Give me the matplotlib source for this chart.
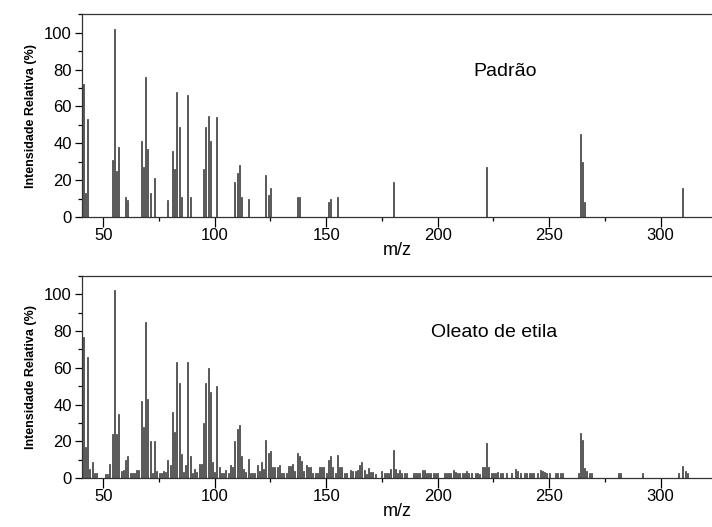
import matplotlib
matplotlib.use('Agg')
import matplotlib.pyplot as plt
from matplotlib.ticker import MultipleLocator

plt.rcParams['font.family'] = ['Liberation Sans', 'DejaVu Sans']

# Padrao (reference spectrum)
mz_padrao  = [41, 42, 43, 54, 55, 56, 57, 60, 61, 67, 68, 69, 70, 71, 73, 79, 81, 82, 83, 84,
              85, 88, 89, 95, 96, 97, 98, 101, 109, 110, 111, 112, 115, 123, 124, 125,
              137, 138, 151, 152, 155, 180, 222, 264, 265, 266, 310]
int_padrao = [72, 13, 53, 31, 102, 25, 38, 11, 9, 41, 27, 76, 37, 13, 21, 9, 36, 26, 68, 49,
              11, 66, 11, 26, 49, 55, 41, 54, 19, 24, 28, 11, 10, 23, 12, 16,
              11, 11, 8, 10, 11, 19, 27, 45, 30, 8, 16]

# Oleato de etila (sample spectrum)
mz_oleato = [41, 42, 43, 44, 45, 46, 47, 51, 52, 53, 54, 55, 56, 57, 58, 59, 60, 61, 62, 63,
             64, 65, 66, 67, 68, 69, 70, 71, 72, 73, 74, 75, 76, 77, 78, 79, 80, 81, 82, 83,
             84, 85, 86, 87, 88, 89, 90, 91, 92, 93, 94, 95, 96, 97, 98, 99, 100, 101, 102, 103,
             104, 105, 106, 107, 108, 109, 110, 111, 112, 113, 114, 115, 116, 117, 118, 119, 120,
             121, 122, 123, 124, 125, 126, 127, 128, 129, 130, 131, 132, 133, 134, 135, 136, 137,
             138, 139, 140, 141, 142, 143, 144, 145, 146, 147, 148, 149, 150, 151, 152, 153, 154,
             155, 156, 157, 158, 159, 161, 162, 163, 164, 165, 166, 167, 168, 169, 170, 171, 172,
             175, 176, 177, 178, 179, 180, 181, 182, 183, 184, 185, 186, 189, 190, 191, 192, 193,
             194, 195, 196, 197, 198, 199, 200, 203, 204, 205, 206, 207, 208, 209, 210, 211, 212,
             213, 214, 215, 217, 218, 219, 220, 221, 222, 223, 224, 225, 226, 227, 228, 229, 231,
             233, 235, 236, 237, 239, 240, 241, 242, 243, 245, 246, 247, 248, 249, 250, 253, 254,
             255, 256, 263, 264, 265, 266, 267, 268, 269, 281, 282, 292, 308, 310, 311, 312]
int_oleato = [77, 17, 66, 5, 9, 3, 3, 2.5, 2.5, 8, 24, 102, 24, 35, 4, 4.5, 10, 12, 3, 3,
              3, 4.5, 4.5, 42, 28, 85, 43, 20, 3, 20, 4, 3, 3, 4, 3.5, 10, 7, 36, 25, 63,
              52, 13, 3.5, 7, 63, 12, 3, 5, 3.5, 7.5, 8, 30, 52, 60, 47, 9, 3.5, 50, 6, 3,
              3, 4.5, 3, 7, 6, 20, 27, 29, 12, 5, 3.5, 10.5, 3, 3, 3, 7, 4,
              9, 5, 21, 14, 15, 6, 6, 6, 7, 3, 3, 2.7, 6.7, 6.7, 8, 4, 14,
              12, 9.5, 4, 7, 6.3, 6.3, 2.7, 2.7, 2.7, 6, 6, 6.3, 3, 10, 12, 6.3, 3,
              12.7, 6.3, 6, 3, 3, 4.5, 4, 4, 4.5, 7, 9, 4.5, 2.3, 5.4, 3.6, 3.4, 2.3,
              3.8, 2.7, 3, 3, 5, 15.4, 5, 3, 4.5, 3, 3, 3, 3, 3, 3, 3, 4.5,
              4.5, 3, 3, 3, 3, 3, 2.7, 2.7, 3, 2.7, 2.7, 4.5, 3.6, 3, 2.7, 2.7, 2.7,
              4, 3, 2.7, 2.7, 2.7, 2.3, 6, 6.3, 19.3, 6, 3, 3, 3, 3.4, 3, 2.7, 2.7,
              2.7, 5, 4, 2.7, 2.7, 2.7, 2.7, 2.7, 2.7, 2.7, 4.5, 4, 3.4, 2.7, 2.7, 2.7, 2.7,
              2.7, 2.7, 2.7, 24.4, 20.8, 5.6, 4, 2.7, 2.7, 2.7, 2.7, 2.7, 2.7, 6.7, 3.8, 2.7]

fig = plt.figure(figsize=(7.12, 5.27), dpi=100)
ax_top = fig.add_axes([0.1147, 0.5882, 0.8853, 0.3847])
ax_bot = fig.add_axes([0.1147, 0.0924, 0.8853, 0.3844])

def style_axis(ax, mz, inten, label, lx, ly):
    ax.bar(mz, inten, width=0.45, color='#9a9a9a', edgecolor='#1a1a1a', linewidth=0.45)
    ax.set_xlim(40.3, 323.1)
    ax.set_ylim(0, 110)
    ax.xaxis.set_major_locator(MultipleLocator(50))
    ax.xaxis.set_minor_locator(MultipleLocator(25))
    ax.yaxis.set_major_locator(MultipleLocator(20))
    ax.yaxis.set_minor_locator(MultipleLocator(10))
    ax.tick_params(axis='x', which='major', direction='out', length=7, width=0.9,
                   labelsize=12, pad=1)
    ax.tick_params(axis='y', which='major', direction='out', length=5, width=0.9,
                   labelsize=12, pad=2)
    ax.tick_params(axis='both', which='minor', direction='out', length=3, width=0.9)
    ax.spines['right'].set_visible(False)
    for s in ['top', 'bottom', 'left']:
        ax.spines[s].set_color('#333333')
        ax.spines[s].set_linewidth(0.9)
    ax.set_xlabel('m/z', fontsize=13, labelpad=-1)
    ax.set_ylabel('Intensidade Relativa (%)', fontsize=9, fontweight='bold', labelpad=5)
    ax.text(lx, ly, label, transform=ax.transAxes, fontsize=14,
            ha='center', va='center')

style_axis(ax_top, mz_padrao, int_padrao, 'Padrão', 0.672, 0.72)
style_axis(ax_bot, mz_oleato, int_oleato, 'Oleato de etila', 0.655, 0.72)

fig.savefig('out.png', dpi=100)
